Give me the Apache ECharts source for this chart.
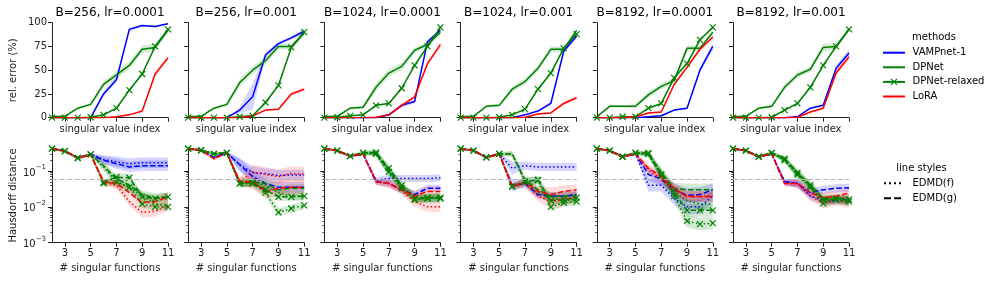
<!DOCTYPE html>
<html><head><meta charset="utf-8">
<script src="https://cdn.jsdelivr.net/npm/echarts@6/dist/echarts.min.js"></script>
<style>html,body{margin:0;padding:0;background:#fff}#c{width:996px;height:281px}</style>
</head><body><div id="c"></div>
<script>
const FONT = 'DejaVu Sans';
const cats = ['2','3','4','5','6','7','8','9','10','11'];
const panelTitles = ['B=256, lr=0.0001','B=256, lr=0.001','B=1024, lr=0.0001','B=1024, lr=0.001','B=8192, lr=0.0001','B=8192, lr=0.001'];
const errTickStep = 25;
const hdMajor = [0.001, 0.01, 0.1];
const hdMinor = [0.002,0.003,0.004,0.005,0.006,0.007,0.008,0.009,0.02,0.03,0.04,0.05,0.06,0.07,0.08,0.09,0.2,0.3,0.4];
const refLine = 0.062;

// ---- top row: relative error (%) ----
const errVAMP = [
 [0,0,0,0,25,40,93,97,96,99],
 [0,0,0,0,8,22,66,78,84,91],
 [0,0,0,0,0,3,13,17,80,92],
 [0,0,0,0,0,3,7,15,70,86],
 [0,0,0,0,1,2,8,10,50,75],
 [0,0,0,0,0,1,10,13,52,68]];
const errDP = [
 [1,1.5,10,14,35,45,55,72,74,92],
 [1,1.5,10,14,37,50,60,75,75,89],
 [1,1.5,10,11,32,47,54,71,77,90],
 [1,1.5,12,13,30,38,52,72,72,92],
 [1,12,12,12,24,33,39,73,73,90],
 [1,1.5,10,12,32,45,51,74,75,93]];
const errRel = [
 [0,0,0,0.5,3,10,29,46,75,93],
 [0,0,0,0,1,2,16,34,74,90],
 [0,0.5,2,3,13,15,31,55,75,95],
 [0,0,0,0.5,3,9,30,47,73,88],
 [0,0,1,1,10,15,42,57,82,95],
 [0,0,0,0.5,8,15,32,55,75,93]];
const errLoRA = [
 [0,0,0,0,0,1,3,7,46,63],
 [0,0,0,0,0,2,8,9,25,30],
 [0,0,0,0,0.5,3,13,22,57,77],
 [0,0,0,0,0,0.5,4,5,15,21],
 [0,0,0,1,5,6,35,53,72,85],
 [0,0,0,0,0,0.5,6,10,47,64]];
const sdVAMP = [
 [0,0,0,0,3,3,2,1,1,1],
 [0,0,0,0,3,14,3,2,2,3],
 [0,0,0,0,0,1,2,2,2,2],
 [0,0,0,0,0,1,1,2,2,3],
 [0,0,0,0,0,1,1,1,3,4],
 [0,0,0,0,0,1,1,1,3,4]];
const sdDP = [
 [1,1,1,2,3,4,4,4,4,2],
 [1,1,1,2,4,4,4,3,3,3],
 [1,1,1,2,4,4,4,3,3,3],
 [1,1,1,2,3,3,3,3,3,2],
 [1,1,1,2,3,3,3,3,3,2],
 [1,1,1,2,3,3,3,4,3,2]];
const sdRel = [
 [0,0,0,0,1,1,2,2,2,2],
 [0,0,0,0,1,1,2,2,2,2],
 [0,0,0,0,1,1,2,2,2,2],
 [0,0,0,0,1,1,2,2,2,2],
 [0,0,0,0,1,1,2,2,2,2],
 [0,0,0,0,1,1,2,2,2,2]];
const sdLoRA = [
 [0,0,0,0,0,0,1,1,3,3],
 [0,0,0,0,0,0,1,1,2,2],
 [0,0,0,0,0,1,2,2,3,3],
 [0,0,0,0,0,0,1,1,2,2],
 [0,0,0,0,1,1,2,2,3,3],
 [0,0,0,0,0,0,1,1,3,3]];

// ---- bottom row: Hausdorff distance ----
const hdVAMPf = [
 [0.42,0.36,0.23,0.29,0.21,0.18,0.16,0.17,0.17,0.17],
 [0.42,0.38,0.24,0.32,0.15,0.09,0.085,0.075,0.078,0.078],
 [0.42,0.37,0.26,0.3,0.056,0.062,0.062,0.062,0.062,0.065],
 [0.42,0.37,0.24,0.3,0.12,0.14,0.13,0.13,0.13,0.13],
 [0.42,0.37,0.25,0.3,0.04,0.04,0.017,0.01,0.01,0.02],
 [0.42,0.37,0.25,0.3,0.05,0.045,0.02,0.015,0.015,0.016]];
const hdVAMPg = [
 [0.42,0.36,0.23,0.29,0.2,0.16,0.13,0.14,0.14,0.14],
 [0.42,0.38,0.24,0.32,0.15,0.07,0.045,0.035,0.035,0.035],
 [0.42,0.37,0.26,0.3,0.05,0.045,0.03,0.022,0.033,0.033],
 [0.42,0.37,0.24,0.3,0.04,0.045,0.022,0.02,0.02,0.022],
 [0.42,0.37,0.25,0.3,0.08,0.06,0.03,0.021,0.022,0.03],
 [0.42,0.37,0.25,0.3,0.05,0.045,0.025,0.03,0.033,0.034]];
const hdDPf = [
 [0.42,0.36,0.23,0.29,0.13,0.05,0.035,0.02,0.012,0.011],
 [0.42,0.38,0.3,0.32,0.045,0.047,0.04,0.025,0.02,0.02],
 [0.42,0.37,0.26,0.32,0.3,0.09,0.035,0.02,0.017,0.018],
 [0.42,0.37,0.24,0.3,0.3,0.05,0.025,0.018,0.015,0.016],
 [0.42,0.37,0.25,0.32,0.28,0.08,0.027,0.015,0.012,0.012],
 [0.42,0.37,0.25,0.32,0.2,0.08,0.037,0.015,0.016,0.014]];
const hdDPg = [
 [0.42,0.36,0.23,0.29,0.14,0.06,0.04,0.022,0.018,0.019],
 [0.42,0.38,0.3,0.32,0.045,0.05,0.045,0.03,0.033,0.033],
 [0.42,0.37,0.26,0.32,0.32,0.1,0.035,0.018,0.018,0.019],
 [0.42,0.37,0.24,0.3,0.3,0.056,0.03,0.02,0.02,0.02],
 [0.42,0.37,0.25,0.32,0.3,0.09,0.033,0.03,0.03,0.03],
 [0.42,0.37,0.25,0.32,0.22,0.085,0.04,0.017,0.017,0.017]];
const hdRelf = [
 [0.42,0.36,0.23,0.29,0.045,0.05,0.035,0.012,0.01,0.01],
 [0.42,0.38,0.3,0.32,0.045,0.045,0.025,0.007,0.009,0.011],
 [0.42,0.37,0.26,0.32,0.3,0.095,0.033,0.016,0.017,0.017],
 [0.42,0.37,0.24,0.3,0.037,0.05,0.056,0.01,0.013,0.014],
 [0.42,0.37,0.25,0.32,0.3,0.077,0.02,0.004,0.0033,0.0035],
 [0.42,0.37,0.25,0.32,0.2,0.08,0.035,0.0125,0.016,0.014]];
const hdRelg = [
 [0.42,0.36,0.23,0.29,0.048,0.067,0.065,0.019,0.017,0.019],
 [0.42,0.38,0.3,0.32,0.045,0.047,0.03,0.019,0.019,0.02],
 [0.42,0.37,0.26,0.32,0.33,0.12,0.04,0.016,0.018,0.018],
 [0.42,0.37,0.24,0.3,0.037,0.05,0.056,0.015,0.016,0.018],
 [0.42,0.37,0.25,0.32,0.32,0.08,0.025,0.008,0.008,0.008],
 [0.42,0.37,0.25,0.32,0.22,0.09,0.04,0.016,0.017,0.016]];
const hdLoRAf = [
 [0.42,0.36,0.23,0.29,0.05,0.04,0.014,0.007,0.0075,0.011],
 [0.42,0.38,0.22,0.32,0.05,0.095,0.08,0.07,0.085,0.082],
 [0.42,0.37,0.26,0.3,0.05,0.045,0.028,0.014,0.01,0.01],
 [0.42,0.37,0.24,0.3,0.037,0.045,0.02,0.014,0.016,0.02],
 [0.42,0.37,0.25,0.3,0.105,0.06,0.03,0.02,0.02,0.02],
 [0.42,0.37,0.25,0.3,0.045,0.045,0.02,0.0125,0.015,0.013]];
const hdLoRAg = [
 [0.42,0.36,0.23,0.29,0.05,0.045,0.025,0.013,0.014,0.019],
 [0.42,0.38,0.22,0.32,0.05,0.05,0.027,0.033,0.035,0.035],
 [0.42,0.37,0.26,0.3,0.05,0.045,0.03,0.02,0.027,0.027],
 [0.42,0.37,0.24,0.3,0.037,0.05,0.027,0.022,0.027,0.03],
 [0.42,0.37,0.25,0.3,0.12,0.07,0.033,0.019,0.019,0.019],
 [0.42,0.37,0.25,0.3,0.045,0.045,0.025,0.018,0.02,0.024]];
// multiplicative spread of the shaded bands
const bandVAMP = [
 [1.08,1.08,1.08,1.08,1.3,1.4,1.4,1.4,1.4,1.4],
 [1.08,1.08,1.08,1.08,1.5,1.5,1.4,1.4,1.4,1.4],
 [1.08,1.08,1.08,1.08,1.2,1.25,1.25,1.25,1.25,1.25],
 [1.08,1.08,1.08,1.08,1.5,1.3,1.3,1.3,1.3,1.3],
 [1.08,1.08,1.08,1.08,1.5,1.5,1.5,1.6,1.6,1.5],
 [1.08,1.08,1.08,1.08,1.2,1.3,1.3,1.3,1.3,1.3]];
const bandDP = [
 [1.08,1.08,1.08,1.1,1.3,1.3,1.3,1.3,1.3,1.3],
 [1.08,1.08,1.08,1.1,1.3,1.3,1.3,1.3,1.3,1.3],
 [1.08,1.08,1.08,1.1,1.2,1.3,1.3,1.3,1.3,1.3],
 [1.08,1.08,1.08,1.1,1.2,1.3,1.3,1.3,1.3,1.3],
 [1.08,1.08,1.08,1.1,1.2,1.4,1.4,1.5,1.5,1.5],
 [1.08,1.08,1.08,1.1,1.2,1.3,1.3,1.3,1.3,1.3]];
const bandRel = [
 [1.08,1.08,1.08,1.1,1.2,1.3,1.3,1.3,1.3,1.3],
 [1.08,1.08,1.08,1.1,1.2,1.3,1.3,1.3,1.3,1.3],
 [1.08,1.08,1.08,1.1,1.2,1.3,1.3,1.3,1.3,1.3],
 [1.08,1.08,1.08,1.1,1.2,1.3,1.3,1.3,1.3,1.3],
 [1.08,1.08,1.08,1.1,1.2,1.4,1.4,1.5,1.5,1.5],
 [1.08,1.08,1.08,1.1,1.2,1.3,1.3,1.3,1.3,1.3]];
const bandLoRA = [
 [1.08,1.08,1.08,1.08,1.2,1.3,1.3,1.4,1.4,1.4],
 [1.08,1.08,1.08,1.08,1.3,1.6,1.6,1.6,1.6,1.6],
 [1.08,1.08,1.08,1.08,1.2,1.3,1.3,1.4,1.4,1.4],
 [1.08,1.08,1.08,1.08,1.2,1.3,1.4,1.6,1.5,1.4],
 [1.08,1.08,1.08,1.08,1.3,1.4,1.4,1.4,1.4,1.4],
 [1.08,1.08,1.08,1.08,1.2,1.3,1.3,1.4,1.4,1.4]];

const methodNames = ['VAMPnet-1','DPNet','DPNet-relaxed','LoRA'];
const styleNames = ['EDMD(f)','EDMD(g)'];

// ---- styling ----
const COL = ['#0000ff','#008000','#008000','#ff0000'];
const BAND = ['rgba(0,0,255,0.17)','rgba(0,128,0,0.17)','rgba(0,128,0,0.17)','rgba(255,0,0,0.14)'];
const XPATH = 'path://M0,0L10,10M10,0L0,10';
const DOT = [1.5,2.4], DASH = [5.5,2.4];
const AX = '#222';
const L0 = 52, DX = 136.2, W = 116;
const TOP_T = 22.7, TOP_H = 95, BOT_T = 148.3, BOT_H = 94.4;

const errSets = [[errVAMP,sdVAMP],[errDP,sdDP],[errRel,sdRel],[errLoRA,sdLoRA]];
const hdSets = [[hdVAMPf,hdVAMPg,bandVAMP],[hdDPf,hdDPg,bandDP],[hdRelf,hdRelg,bandRel],[hdLoRAf,hdLoRAg,bandLoRA]];

function bandSeries(xi, yi, lo, hi, fill){
  return {type:'custom', xAxisIndex:xi, yAxisIndex:yi, silent:true, z:1, clip:true,
    data: lo.map((v,i)=>[i, v, hi[i]]), encode:{x:0, y:[1,2]},
    renderItem:(params, api)=>{
      if (params.dataIndex !== 0) return null;
      const pts = [];
      for (let i=0;i<hi.length;i++) pts.push(api.coord([i, hi[i]]));
      for (let i=lo.length-1;i>=0;i--) pts.push(api.coord([i, lo[i]]));
      return {type:'polygon', shape:{points:pts}, style:{fill:fill, stroke:null}};
    }};
}
function lineSeries(xi, yi, vals, m, dash){
  return {type:'line', xAxisIndex:xi, yAxisIndex:yi, data:vals, z:3, silent:true,
    showSymbol: m===2, symbol: XPATH, symbolSize: 6,
    itemStyle:{color:COL[m], borderColor:COL[m], borderWidth:1.2},
    lineStyle:{color:COL[m], width:1.5, type: dash || 'solid'}};
}
const tickEvery = (i)=> i%2===1;

const grid=[], xAxis=[], yAxis=[], series=[], graphic=[];
for (let p=0;p<6;p++){
  grid.push({left:L0+p*DX, top:TOP_T, width:W, height:TOP_H});
}
for (let p=0;p<6;p++){
  grid.push({left:L0+p*DX, top:BOT_T, width:W, height:BOT_H});
}
for (let g=0; g<12; g++){
  const bottom = g>=6;
  xAxis.push({type:'category', gridIndex:g, data:cats, boundaryGap:false,
    axisLine:{lineStyle:{color:AX, width:1}},
    axisTick:{interval:tickEvery, length:4, lineStyle:{color:AX, width:1}},
    axisLabel:{show:bottom, interval:tickEvery, margin:6, fontSize:10, color:AX, fontFamily:FONT},
    splitLine:{show:false},
    name: bottom ? '# singular functions' : 'singular value index',
    nameLocation:'middle', nameGap: bottom ? 21 : 7,
    nameTextStyle:{fontSize:10, color:AX, fontFamily:FONT}});
}
for (let p=0;p<6;p++){
  yAxis.push({type:'value', gridIndex:p, min:0, max:100, interval:errTickStep,
    axisLine:{show:true, lineStyle:{color:AX, width:1}},
    axisTick:{show:true, length:4, lineStyle:{color:AX}},
    axisLabel:{show:p===0, margin:5, fontSize:10, color:AX, fontFamily:FONT},
    splitLine:{show:false},
    name: p===0 ? 'rel. error (%)' : '', nameLocation:'middle', nameGap:34,
    nameTextStyle:{fontSize:10, color:AX, fontFamily:FONT}});
}
for (let p=0;p<6;p++){
  yAxis.push({type:'log', logBase:10, gridIndex:6+p, min:0.001, max:0.43, position:'left',
    axisLine:{show:true, lineStyle:{color:AX, width:1}},
    axisTick:{show:true, length:4, customValues:hdMajor, lineStyle:{color:AX}},
    axisLabel:{show:p===0, customValues:hdMajor, margin:6, fontFamily:FONT, color:AX, fontSize:10,
      formatter:(v)=>'{b|10}{sup|\u2212'+Math.round(-Math.log10(v))+'}',
      rich:{b:{fontSize:10, lineHeight:14, verticalAlign:'bottom', fontFamily:FONT, color:AX},
            sup:{fontSize:7, lineHeight:14, verticalAlign:'top', fontFamily:FONT, color:AX}}},
    splitLine:{show:false},
    name: p===0 ? 'Hausdorff distance' : '', nameLocation:'middle', nameGap:34,
    nameTextStyle:{fontSize:10, color:AX, fontFamily:FONT}});
}
for (let p=0;p<6;p++){
  yAxis.push({type:'log', logBase:10, gridIndex:6+p, min:0.001, max:0.43, position:'left', offset:0,
    axisLine:{show:false}, axisLabel:{show:false}, splitLine:{show:false},
    axisTick:{show:true, length:2, customValues:hdMinor, lineStyle:{color:AX, width:0.8}}});
}

// top row series
for (let p=0;p<6;p++){
  errSets.forEach(([vals, sd], m)=>{
    const v = vals[p], s = sd[p];
    series.push(bandSeries(p, p, v.map((x,i)=>x-s[i]), v.map((x,i)=>x+s[i]), BAND[m]));
  });
  errSets.forEach(([vals], m)=>{
    series.push(lineSeries(p, p, vals[p], m, null));
  });
}
// bottom row series
for (let p=0;p<6;p++){
  const gi = 6+p, yi = 6+p;
  series.push({type:'line', xAxisIndex:gi, yAxisIndex:yi, data:[], z:0, silent:true,
    markLine:{silent:true, symbol:'none', label:{show:false}, animation:false,
      lineStyle:{color:'#b3b3b3', type:[5,2.5], width:1.2},
      data:[{yAxis:refLine}]}});
  hdSets.forEach(([f, g, b], m)=>{
    [f, g].forEach(arr=>{
      const v = arr[p], k = b[p];
      series.push(bandSeries(gi, yi, v.map((x,i)=>x/k[i]), v.map((x,i)=>x*k[i]), BAND[m]));
    });
  });
  hdSets.forEach(([f, g], m)=>{
    series.push(lineSeries(gi, yi, g[p], m, DASH));
    series.push(lineSeries(gi, yi, f[p], m, DOT));
  });
}

// titles
const tStyle = {fontSize:12, fill:'#000', fontFamily:FONT, textAlign:'center', textVerticalAlign:'middle'};
panelTitles.forEach((t,p)=>{
  graphic.push({type:'text', x:L0+p*DX+W/2, y:12.5, style:Object.assign({text:t}, tStyle)});
});
// legends
const lgText = {fontSize:10, fill:'#000', fontFamily:FONT, textVerticalAlign:'middle'};
graphic.push({type:'text', x:934, y:37.5, style:Object.assign({text:'methods', textAlign:'center'}, lgText)});
methodNames.forEach((n,m)=>{
  const y = 52.7 + m*14.6;
  graphic.push({type:'line', shape:{x1:883, y1:y, x2:905, y2:y}, style:{stroke:COL[m], lineWidth:2}});
  if (m===2){
    graphic.push({type:'polyline', shape:{points:[[891,y-3],[897,y+3]]}, style:{stroke:COL[m], lineWidth:1.3}});
    graphic.push({type:'polyline', shape:{points:[[897,y-3],[891,y+3]]}, style:{stroke:COL[m], lineWidth:1.3}});
  }
  graphic.push({type:'text', x:912.5, y:y, style:Object.assign({text:n, textAlign:'left'}, lgText)});
});
graphic.push({type:'text', x:921.5, y:168.3, style:Object.assign({text:'line styles', textAlign:'center'}, lgText)});
styleNames.forEach((n,k)=>{
  const y = 183.3 + k*15;
  graphic.push({type:'line', shape:{x1:884, y1:y, x2:903, y2:y}, style:{stroke:'#000', lineWidth:2, lineDash: k===0 ? [2,3] : [7,3]}});
  graphic.push({type:'text', x:912.5, y:y, style:Object.assign({text:n, textAlign:'left'}, lgText)});
});

const chart = echarts.init(document.getElementById('c'), null, {renderer:'canvas'});
chart.setOption({animation:false, backgroundColor:'#fff', textStyle:{fontFamily:FONT},
  grid, xAxis, yAxis, series, graphic});
</script></body></html>
